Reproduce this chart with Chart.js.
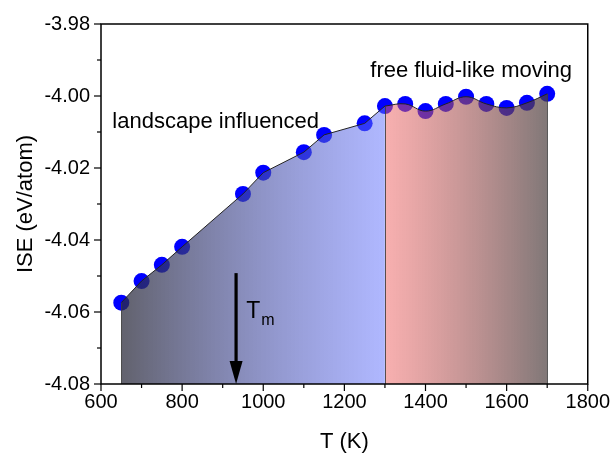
<!DOCTYPE html>
<html>
<head>
<meta charset="utf-8">
<script src="https://cdn.jsdelivr.net/npm/chart.js"></script>
<style>
  html, body { margin: 0; padding: 0; background: #fff; }
</style>
</head>
<body>
<canvas id="iseChart" width="616" height="457"></canvas>
<script>
const FONT = '"Liberation Sans", Arial, sans-serif';

// temperature (K) and ISE (eV/atom)
const temps = [650, 700, 750, 800, 950, 1000, 1100, 1150, 1250, 1300,
               1350, 1400, 1450, 1500, 1550, 1600, 1650, 1700];
const iseValues = [-4.0574, -4.0514, -4.0469, -4.0419, -4.0272, -4.0213, -4.0156, -4.0108, -4.0076, -4.0028,
                   -4.0022, -4.0042, -4.0022, -4.0002, -4.0022, -4.0033, -4.0019, -3.9994];
const splitT = 1300;   // landscape influenced | free fluid-like
const meltT = 933;     // T_m arrow

const points = temps.map((t, i) => ({ x: t, y: iseValues[i] }));
const lowPoints = points.filter(p => p.x <= splitT);
const highPoints = points.filter(p => p.x >= splitT);

function regionGradient(chart, t0, t1, stops) {
  const { ctx, chartArea, scales } = chart;
  if (!chartArea) return null;
  const g = ctx.createLinearGradient(scales.x.getPixelForValue(t0), 0, scales.x.getPixelForValue(t1), 0);
  stops.forEach(([o, c]) => g.addColorStop(o, c));
  return g;
}

const decorations = {
  id: 'decorations',
  afterDatasetsDraw(chart) {
    const { ctx, chartArea: a, scales: { x, y } } = chart;
    ctx.save();

    // edges of the shaded regions
    ctx.strokeStyle = 'rgba(60,60,60,0.85)';
    ctx.lineWidth = 1;
    [temps[0], splitT, temps[temps.length - 1]].forEach(t => {
      const i = temps.indexOf(t);
      const px = Math.round(x.getPixelForValue(t)) + 0.5;
      ctx.beginPath();
      ctx.moveTo(px, y.getPixelForValue(iseValues[i]));
      ctx.lineTo(px, a.bottom);
      ctx.stroke();
    });

    // frame
    ctx.strokeStyle = '#000';
    ctx.lineWidth = 1.5;
    ctx.strokeRect(a.left, a.top, a.right - a.left, a.bottom - a.top);

    // ticks, outward on left and bottom
    ctx.lineWidth = 1.2;
    x.ticks.forEach(t => {
      const px = x.getPixelForValue(t.value);
      const len = t.value % 200 === 0 ? 7 : 4;
      ctx.beginPath(); ctx.moveTo(px, a.bottom); ctx.lineTo(px, a.bottom + len); ctx.stroke();
    });
    y.ticks.forEach(t => {
      const py = y.getPixelForValue(t.value);
      const len = Math.round(t.value * 100) % 2 === 0 ? 7 : 4;
      ctx.beginPath(); ctx.moveTo(a.left, py); ctx.lineTo(a.left - len, py); ctx.stroke();
    });

    // T_m arrow
    const ax = x.getPixelForValue(meltT);
    const aTop = y.getPixelForValue(-4.0492);
    const aBot = a.bottom;
    ctx.fillStyle = '#000';
    ctx.lineWidth = 3.2;
    ctx.beginPath(); ctx.moveTo(ax, aTop); ctx.lineTo(ax, aBot - 18); ctx.stroke();
    ctx.beginPath();
    ctx.moveTo(ax - 6.5, aBot - 23);
    ctx.lineTo(ax + 6.5, aBot - 23);
    ctx.lineTo(ax, aBot);
    ctx.closePath();
    ctx.fill();

    // labels
    ctx.textBaseline = 'alphabetic';
    ctx.textAlign = 'left';
    ctx.font = '22px ' + FONT;
    ctx.fillText('landscape influenced', x.getPixelForValue(628), y.getPixelForValue(-4.0089));
    ctx.fillText('free fluid-like moving', x.getPixelForValue(1264), y.getPixelForValue(-3.9947));
    const tx = x.getPixelForValue(958), ty = y.getPixelForValue(-4.0617);
    ctx.font = '23px ' + FONT;
    ctx.fillText('T', tx, ty);
    const tw = ctx.measureText('T').width;
    ctx.font = '16px ' + FONT;
    ctx.fillText('m', tx + tw + 1, ty + 7);

    ctx.restore();
  }
};

new Chart(document.getElementById('iseChart'), {
  type: 'line',
  data: {
    datasets: [
      {
        label: 'ISE',
        data: points,
        showLine: false,
        pointRadius: 8,
        pointBorderWidth: 0,
        pointBackgroundColor: 'rgb(0,0,255)',
        order: 2
      },
      {
        label: 'landscape influenced',
        data: lowPoints,
        borderColor: '#222',
        borderWidth: 1,
        pointRadius: 0,
        tension: 0,
        fill: 'start',
        backgroundColor: c => regionGradient(c.chart, temps[0], splitT,
          [[0, 'rgba(45,45,60,0.75)'], [1, 'rgba(97,113,255,0.5)']]),
        order: 1
      },
      {
        label: 'free fluid-like moving',
        data: highPoints,
        borderColor: '#222',
        borderWidth: 1,
        pointRadius: 0,
        tension: 0.4,
        fill: 'start',
        backgroundColor: c => regionGradient(c.chart, splitT, temps[temps.length - 1],
          [[0, 'rgba(241,97,97,0.5)'], [1, 'rgba(75,62,62,0.7)']]),
        order: 1
      }
    ]
  },
  options: {
    responsive: false,
    animation: false,
    layout: { padding: { top: 24, right: 24, left: 0, bottom: 0 } },
    plugins: { legend: { display: false }, tooltip: { enabled: false } },
    scales: {
      x: {
        type: 'linear',
        min: 600,
        max: 1800,
        afterFit: s => { s.height = 73; },
        grid: { display: false, drawTicks: false },
        border: { display: false },
        ticks: {
          stepSize: 100,
          autoSkip: false,
          maxRotation: 0,
          padding: 6,
          color: '#000',
          font: { family: FONT, size: 20 },
          callback: v => (v % 200 === 0 ? v : '')
        },
        title: {
          display: true,
          text: 'T (K)',
          color: '#000',
          font: { family: FONT, size: 22 },
          padding: { top: 0, bottom: 2 }
        }
      },
      y: {
        min: -4.08,
        max: -3.98,
        afterFit: s => { s.width = 101; },
        grid: { display: false, drawTicks: false },
        border: { display: false },
        ticks: {
          stepSize: 0.01,
          autoSkip: false,
          padding: 11,
          color: '#000',
          font: { family: FONT, size: 20 },
          callback: v => (Math.round(v * 100) % 2 === 0 ? v.toFixed(2) : '')
        },
        title: {
          display: true,
          text: 'ISE (eV/atom)',
          color: '#000',
          font: { family: FONT, size: 22 },
          padding: { top: 13, bottom: 0 }
        }
      }
    }
  },
  plugins: [decorations]
});
</script>
</body>
</html>
